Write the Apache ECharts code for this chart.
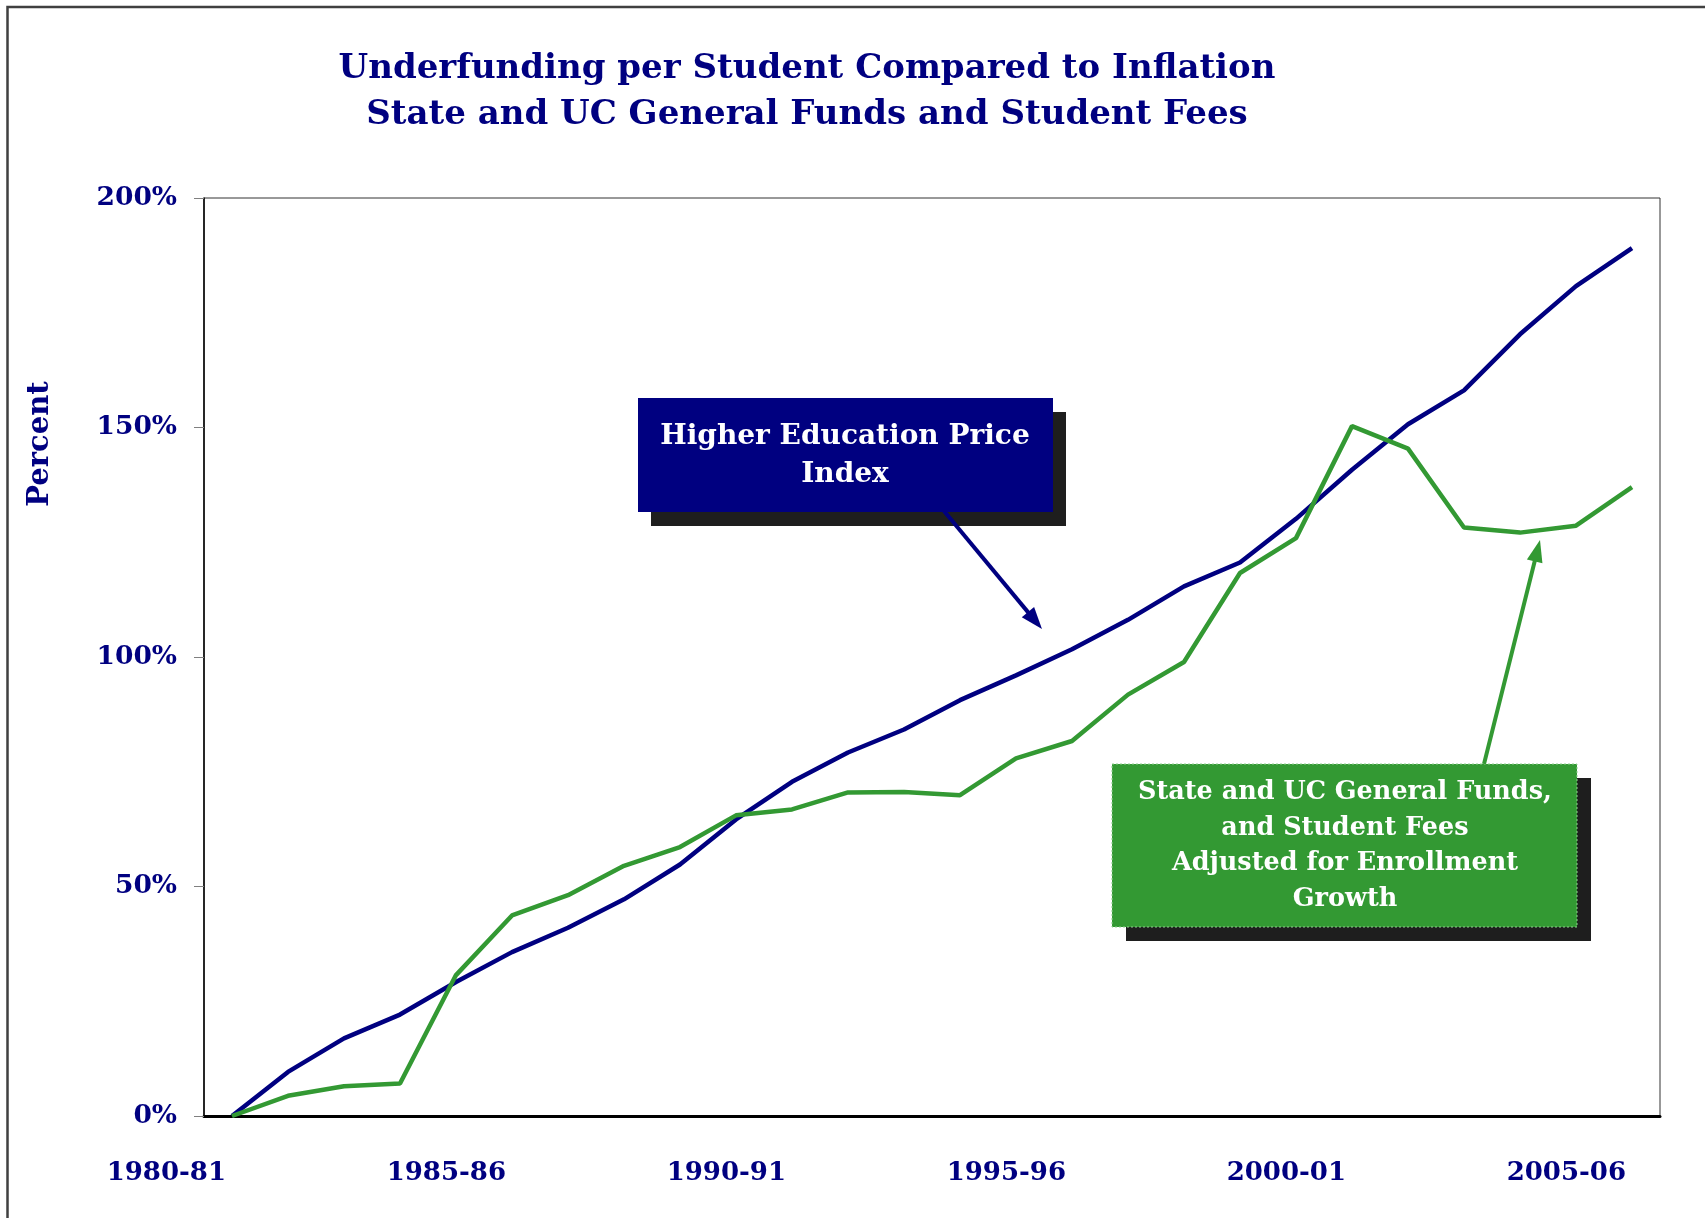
<!DOCTYPE html>
<html>
<head>
<meta charset="utf-8">
<script src="https://cdn.jsdelivr.net/npm/echarts@6/dist/echarts.min.js"></script>
<style>
  html, body { margin: 0; padding: 0; background: #fff; }
  #chart { width: 1705px; height: 1218px; }
</style>
</head>
<body>
<div id="chart"></div>
<script>
// school years on the x axis
const years = ['1980-81','1981-82','1982-83','1983-84','1984-85','1985-86','1986-87','1987-88',
  '1988-89','1989-90','1990-91','1991-92','1992-93','1993-94','1994-95','1995-96','1996-97',
  '1997-98','1998-99','1999-00','2000-01','2001-02','2002-03','2003-04','2004-05','2005-06'];

// Higher Education Price Index, % growth since 1980-81
const hepi = [0, 9.6, 16.9, 22.1, 29.2, 35.7, 41.0, 47.2, 54.8, 64.6, 72.8, 79.2, 84.2, 90.6,
  96.0, 101.7, 108.1, 115.4, 120.6, 130.1, 140.8, 150.7, 158.1, 170.3, 180.8, 189.1];

// State and UC general funds + student fees, adjusted for enrollment growth
const funds = [0, 4.4, 6.5, 7.1, 30.7, 43.7, 48.1, 54.5, 58.6, 65.5, 66.8, 70.5, 70.6, 69.9,
  77.9, 81.7, 91.8, 98.9, 118.3, 125.9, 150.3, 145.4, 128.2, 127.1, 128.6, 137.0];

const yTicks = [0, 50, 100, 150, 200];

const NAVY = '#000080';
const GREEN = '#339933';
const FONT = 'DejaVu Serif';

// line with a triangle head, for the callouts
function arrow(x1, y1, x2, y2, color) {
  let dx = x2 - x1, dy = y2 - y1;
  let len = Math.sqrt(dx * dx + dy * dy);
  let ux = dx / len, uy = dy / len;
  let hl = 22, hw = 8;
  let bx = x2 - ux * hl, by = y2 - uy * hl;
  return [
    { type: 'line', z: 20, shape: { x1: x1, y1: y1, x2: bx + ux * 2, y2: by + uy * 2 },
      style: { stroke: color, lineWidth: 4 } },
    { type: 'polygon', z: 20, shape: { points: [[x2, y2], [bx - uy * hw, by + ux * hw], [bx + uy * hw, by - ux * hw]] },
      style: { fill: color } }
  ];
}

const chart = echarts.init(document.getElementById('chart'));

let graphics = [
  // outer frame
  { type: 'rect', z: 1, shape: { x: 7.5, y: 7, width: 1760, height: 1260 },
    style: { fill: 'none', stroke: '#404040', lineWidth: 2.5 } },
  // y axis name
  { type: 'text', x: 40, y: 444, rotation: Math.PI / 2,
    style: { text: 'Percent', fill: NAVY, font: 'bold 29px "DejaVu Serif"', align: 'center', verticalAlign: 'middle' } },
  // HEPI callout
  { type: 'rect', z: 18, shape: { x: 651, y: 412, width: 415, height: 114 }, style: { fill: '#1e1e1e' } },
  { type: 'rect', z: 19, shape: { x: 638, y: 398, width: 415, height: 114 }, style: { fill: NAVY } },
  { type: 'text', z: 21, x: 845, y: 456,
    style: { text: 'Higher Education Price\nIndex', fill: '#fff', font: 'bold 28px "DejaVu Serif"',
      align: 'center', verticalAlign: 'middle', lineHeight: 38 } },
  // funds callout
  { type: 'rect', z: 18, shape: { x: 1126, y: 778, width: 465, height: 163 }, style: { fill: '#1e1e1e' } },
  { type: 'rect', z: 19, shape: { x: 1112, y: 764, width: 465, height: 163 },
    style: { fill: GREEN, stroke: '#8fcf8f', lineWidth: 1, lineDash: [2, 2] } },
  { type: 'text', z: 21, x: 1345, y: 846,
    style: { text: 'State and UC General Funds,\nand Student Fees\nAdjusted for Enrollment\nGrowth',
      fill: '#fff', font: 'bold 25.5px "DejaVu Serif"', align: 'center', verticalAlign: 'middle', lineHeight: 35.5 } }
];
graphics = graphics.concat(arrow(944, 511, 1042, 629, NAVY));
graphics = graphics.concat(arrow(1484, 764, 1540, 540, GREEN));

const option = {
  backgroundColor: '#fff',
  animation: false,
  title: {
    text: 'Underfunding per Student Compared to Inflation\nState and UC General Funds and Student Fees',
    left: 802,
    top: 41,
    textAlign: 'center',
    textStyle: { fontFamily: FONT, fontWeight: 'bold', fontSize: 34, color: NAVY, lineHeight: 46 }
  },
  grid: {
    left: 204, top: 198, right: 45, bottom: 102,
    show: true, borderColor: '#333', borderWidth: 1
  },
  xAxis: {
    type: 'category',
    data: years,
    boundaryGap: true,
    axisLine: { lineStyle: { color: '#000', width: 3 } },
    axisTick: { interval: 4, length: 12, lineStyle: { color: '#333', width: 1 } },
    axisLabel: {
      interval: 4, align: 'right', padding: [0, 6, 0, 0], margin: 44,
      fontFamily: FONT, fontWeight: 'bold', fontSize: 26, color: NAVY
    },
    splitLine: { show: false }
  },
  yAxis: {
    type: 'value',
    min: yTicks[0], max: yTicks[yTicks.length - 1], interval: 50,
    axisLine: { show: true, lineStyle: { color: '#000', width: 1.5 } },
    axisTick: { show: true, length: 10, lineStyle: { color: '#808080' } },
    axisLabel: {
      margin: 27, formatter: '{value}%',
      fontFamily: FONT, fontWeight: 'bold', fontSize: 26.5, color: NAVY
    },
    splitLine: { show: false }
  },
  series: [
    { name: 'Higher Education Price Index', type: 'line', data: hepi, symbol: 'none',
      lineStyle: { color: NAVY, width: 4.5 }, z: 3 },
    { name: 'State and UC General Funds and Student Fees', type: 'line', data: funds, symbol: 'none',
      lineStyle: { color: GREEN, width: 4.5 }, z: 4 }
  ],
  graphic: graphics
};
chart.setOption(option);
</script>
</body>
</html>
